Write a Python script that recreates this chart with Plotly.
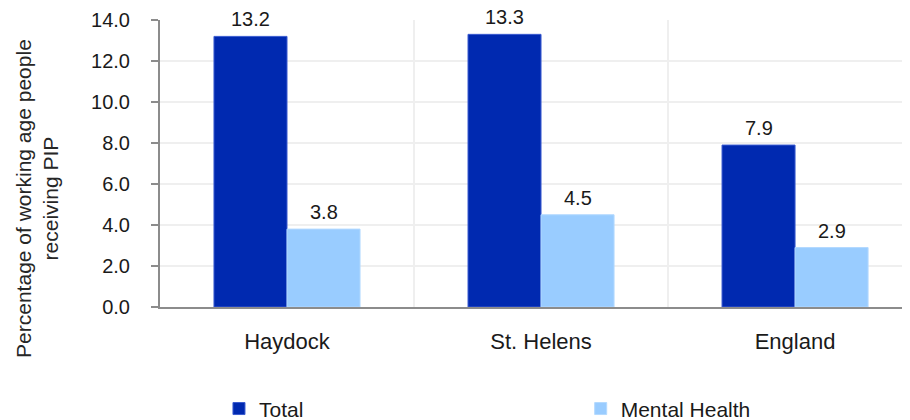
import plotly.graph_objects as go

categories = ["Haydock", "St. Helens", "England"]
total = [13.2, 13.3, 7.9]
mental_health = [3.8, 4.5, 2.9]
y_ticks = [0, 2, 4, 6, 8, 10, 12, 14]
y_tick_labels = ["0.0", "2.0", "4.0", "6.0", "8.0", "10.0", "12.0", "14.0"]

FONT = "Liberation Sans, Arial, sans-serif"
TXT = "#1a1a1a"

fig = go.Figure()
fig.add_trace(go.Bar(
    name="Total", x=categories, y=total, offsetgroup="t",
    marker=dict(color="#0029B0", line=dict(color="#3a5bd0", width=1)),
    legend="legend",
))
fig.add_trace(go.Bar(
    name="Mental Health", x=categories, y=mental_health, offsetgroup="m",
    marker=dict(color="#99CCFF", line=dict(color="#b3d9ff", width=1)),
    legend="legend2",
))

annotations = []
for series, shift in ((total, -36.5), (mental_health, 36.5)):
    for cat, v in zip(categories, series):
        annotations.append(dict(
            x=cat, y=v, xref="x", yref="y", text=f"{v:.1f}", showarrow=False,
            xanchor="center", yanchor="bottom", xshift=shift, yshift=4,
            font=dict(family=FONT, size=20, color=TXT),
        ))
annotations.append(dict(
    text="Percentage of working age people<br>receiving PIP",
    xref="paper", yref="paper", x=-0.1623, y=0.38,
    xanchor="center", yanchor="middle", textangle=-90, showarrow=False,
    font=dict(family=FONT, size=21, color="#262626"),
))

leg_common = dict(
    orientation="h", xanchor="left", y=-0.355, yanchor="middle",
    font=dict(family=FONT, size=21, color=TXT), bgcolor="rgba(0,0,0,0)",
)

fig.update_layout(
    width=910, height=420,
    margin=dict(l=152, r=0, t=12, b=121, autoexpand=False),
    paper_bgcolor="white", plot_bgcolor="white",
    barmode="group", bargap=0.425, bargroupgap=0,
    font=dict(family=FONT, size=20, color=TXT),
    showlegend=True,
    legend=dict(x=0.0778, **leg_common),
    legend2=dict(x=0.555, **leg_common),
    xaxis=dict(
        type="category", range=[-0.5, 2.484], automargin=False,
        tickson="boundaries", showgrid=True, gridcolor="#efefef", gridwidth=2,
        showline=True, linecolor="#8c8c8c", linewidth=2,
        ticks="", tickfont=dict(family=FONT, size=22, color=TXT),
        ticklabelstandoff=14,
    ),
    yaxis=dict(
        range=[0, 14], tickvals=y_ticks, ticktext=y_tick_labels, automargin=False,
        showgrid=True, gridcolor="#efefef", gridwidth=2, zeroline=False,
        showline=True, linecolor="#8c8c8c", linewidth=2,
        ticks="outside", ticklen=7, tickcolor="#8c8c8c", tickwidth=2,
        tickfont=dict(family=FONT, size=20, color=TXT),
        ticklabelstandoff=17,
    ),
    annotations=annotations,
)

fig.write_html("out.html")
